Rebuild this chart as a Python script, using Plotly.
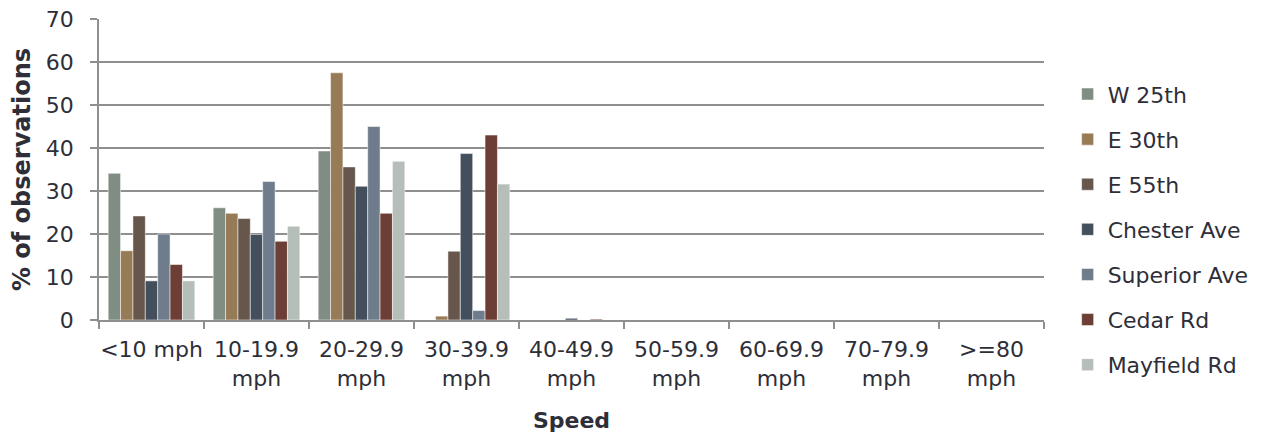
import plotly.graph_objects as go

categories = ["<10 mph", "10-19.9<br>mph", "20-29.9<br>mph", "30-39.9<br>mph", "40-49.9<br>mph",
              "50-59.9<br>mph", "60-69.9<br>mph", "70-79.9<br>mph", ">=80<br>mph"]

w25th = [34.1, 26.1, 39.3, 0.0, 0.0, 0, 0, 0, 0]
e30th = [16.1, 24.8, 57.5, 0.9, 0.0, 0, 0, 0, 0]
e55th = [24.2, 23.6, 35.6, 16.0, 0.0, 0, 0, 0, 0]
chester = [9.1, 19.9, 31.1, 38.7, 0.4, 0, 0, 0, 0]
superior = [20.0, 32.2, 45.0, 2.2, 0.0, 0, 0, 0, 0]
cedar = [12.9, 18.3, 24.8, 43.0, 0.2, 0, 0, 0, 0]
mayfield = [9.1, 21.8, 36.9, 31.6, 0.0, 0, 0, 0, 0]

series = [
    ("W 25th", w25th, "#808D82"),
    ("E 30th", e30th, "#977B56"),
    ("E 55th", e55th, "#67564B"),
    ("Chester Ave", chester, "#434F5D"),
    ("Superior Ave", superior, "#6F7C8C"),
    ("Cedar Rd", cedar, "#6C3E35"),
    ("Mayfield Rd", mayfield, "#B6BEB9"),
]

fig = go.Figure()
for i, (name, vals, col) in enumerate(series):
    fig.add_trace(go.Bar(
        x=categories, y=vals, name=name, legendgroup=f"g{i}",
        marker=dict(color=col, line=dict(color="rgba(255,255,255,0.7)", width=0.7)),
    ))

font_col = "#2E2E38"
grid_col = "#8F8F8F"
fam = "DejaVu Sans, Arial, sans-serif"
fs = 22

fig.update_layout(
    width=1264, height=436,
    margin=dict(l=99, r=220, t=19, b=116, autoexpand=False),
    paper_bgcolor="white", plot_bgcolor="white",
    barmode="group", bargap=0.175, bargroupgap=0,
    font=dict(family=fam, size=fs, color=font_col),
    legend=dict(
        x=1.025, xanchor="left", yref="container", y=0.832, yanchor="top",
        font=dict(family=fam, size=fs, color=font_col),
        tracegroupgap=13.5, itemclick=False, maxheight=420,
        bgcolor="rgba(0,0,0,0)",
    ),
    xaxis=dict(
        type="category", tickson="boundaries", ticks="outside", ticklen=7,
        tickcolor=grid_col, tickwidth=1.5,
        showline=True, linecolor=grid_col, linewidth=1.5,
        showgrid=False, tickangle=0, automargin=False, ticklabelstandoff=9,
        title=dict(text="<b>Speed</b>", font=dict(family=fam, size=fs, color=font_col), standoff=23),
        tickfont=dict(family=fam, size=fs, color=font_col),
    ),
    yaxis=dict(
        range=[0, 70], dtick=10, ticks="outside", ticklen=7,
        tickcolor=grid_col, tickwidth=1.5,
        showline=True, linecolor=grid_col, linewidth=1.5,
        showgrid=True, gridcolor=grid_col, gridwidth=1.5,
        zeroline=False, automargin=False, ticklabelstandoff=12,
        title=dict(text="<b>% of observations</b>", font=dict(family=fam, size=24, color=font_col), standoff=8),
        tickfont=dict(family=fam, size=fs, color=font_col),
    ),
)

fig.write_html("out.html")
